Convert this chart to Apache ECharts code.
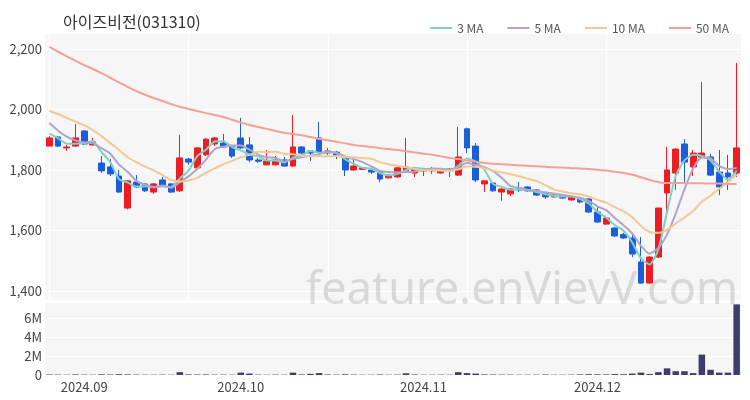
<!DOCTYPE html>
<html><head><meta charset="utf-8">
<script src="https://cdn.jsdelivr.net/npm/echarts@6/dist/echarts.min.js"></script>
<style>html,body{margin:0;padding:0;background:#fff}#c{width:750px;height:400px}</style>
</head><body><div id="c"></div>
<script>
const dates = ['2024.08.27','2024.08.28','2024.08.29','2024.08.30',
'2024.09.02','2024.09.03','2024.09.04','2024.09.05','2024.09.06','2024.09.09','2024.09.10','2024.09.11','2024.09.12','2024.09.13','2024.09.19','2024.09.20','2024.09.23','2024.09.24','2024.09.25','2024.09.26','2024.09.27','2024.09.30',
'2024.10.01','2024.10.02','2024.10.04','2024.10.07','2024.10.08','2024.10.10','2024.10.11','2024.10.14','2024.10.15','2024.10.16','2024.10.17','2024.10.18','2024.10.21','2024.10.22','2024.10.23','2024.10.24','2024.10.25','2024.10.28','2024.10.29','2024.10.30','2024.10.31',
'2024.11.01','2024.11.04','2024.11.05','2024.11.06','2024.11.07','2024.11.08','2024.11.11','2024.11.12','2024.11.13','2024.11.14','2024.11.15','2024.11.18','2024.11.19','2024.11.20','2024.11.21','2024.11.22','2024.11.25','2024.11.26','2024.11.27','2024.11.28',
'2024.12.02','2024.12.03','2024.12.04','2024.12.05','2024.12.06','2024.12.09','2024.12.10','2024.12.11','2024.12.12','2024.12.13','2024.12.16','2024.12.17','2024.12.18','2024.12.19','2024.12.20','2024.12.23','2024.12.24'];

const opens = [1879,1909,1873,1879,1929,1883,1823,1810,1780,1674,
 1760,1754,1727,1767,1754,1731,1836,1807,1850,1886,
 1889,1879,1906,1883,1833,1817,1817,1833,1813,1876,
 1863,1906,1856,1859,1840,1800,1802,1800,1793,1774,
 1777,1793,1790,1797,1797,1790,1803,1783,1936,1879,
 1754,1757,1727,1721,1740,1744,1734,1724,1711,1717,
 1701,1707,1704,1661,1621,1608,1587,1575,1496,1426,
 1512,1724,1790,1886,1810,1843,1843,1793,1790,1790];
const closes = [1906,1879,1876,1906,1886,1893,1797,1787,1727,1764,
 1744,1731,1754,1750,1727,1840,1826,1873,1902,1906,
 1876,1846,1873,1833,1829,1830,1833,1813,1876,1856,
 1856,1859,1863,1846,1800,1813,1807,1793,1770,1783,
 1807,1810,1803,1800,1803,1803,1797,1843,1873,1767,
 1764,1731,1737,1737,1734,1731,1717,1711,1717,1707,
 1711,1694,1661,1628,1641,1582,1575,1522,1426,1512,
 1674,1800,1869,1826,1856,1856,1783,1744,1777,1873];
const highs = [1912,1912,1883,1952,1932,1906,1846,1836,1800,1766,
 1783,1757,1757,1777,1757,1916,1840,1876,1906,1909,
 1919,1883,1972,1909,1840,1866,1846,1843,1982,1879,
 1866,1959,1873,1863,1843,1833,1810,1803,1797,1787,
 1810,1906,1806,1807,1810,1805,1807,1942,1940,1889,
 1766,1760,1740,1740,1760,1747,1737,1727,1720,1720,
 1714,1710,1707,1678,1645,1611,1592,1592,1578,1516,
 1676,1876,1872,1902,1866,2091,1853,1866,1850,2154];
const lows = [1879,1876,1863,1876,1883,1880,1790,1780,1724,1670,
 1740,1727,1721,1745,1724,1727,1817,1803,1846,1879,
 1873,1840,1870,1826,1823,1815,1815,1811,1811,1853,
 1830,1856,1850,1836,1780,1797,1800,1787,1760,1772,
 1774,1790,1777,1780,1787,1788,1777,1780,1856,1760,
 1727,1728,1698,1714,1727,1728,1714,1704,1708,1704,
 1698,1690,1658,1625,1618,1578,1572,1512,1424,1424,
 1509,1641,1734,1757,1780,1840,1780,1717,1734,1777];
const volumes = [50000,40000,30000,60000,40000,30000,70000,50000,80000,60000,
 40000,30000,30000,40000,30000,300000,60000,50000,60000,40000,
 40000,30000,250000,150000,40000,30000,40000,30000,250000,60000,
 120000,200000,50000,40000,70000,40000,30000,30000,50000,30000,
 40000,180000,50000,30000,30000,40000,30000,300000,200000,150000,
 60000,50000,40000,40000,30000,30000,40000,50000,30000,30000,
 40000,60000,80000,70000,60000,100000,80000,150000,250000,100000,
 300000,700000,400000,400000,200000,2150000,550000,250000,250000,7450000];
const ma3 = [1920,1905,1887,1887,1889,1895,1859,1826,1770,1759,
 1745,1746,1743,1745,1744,1772,1798,1846,1867,1894,
 1895,1876,1865,1851,1845,1831,1831,1825,1841,1848,
 1863,1857,1859,1856,1836,1820,1807,1804,1790,1782,
 1787,1800,1807,1804,1802,1802,1801,1814,1838,1828,
 1801,1754,1744,1735,1736,1734,1727,1720,1715,1712,
 1712,1704,1689,1661,1643,1617,1599,1560,1508,1487,
 1537,1662,1781,1832,1850,1846,1832,1794,1768,1798];
const ma5 = [1955,1930,1910,1898,1891,1888,1872,1854,1818,1794,
 1764,1751,1744,1749,1741,1760,1779,1803,1834,1869,
 1877,1881,1881,1867,1851,1842,1840,1828,1836,1842,
 1847,1852,1862,1856,1845,1836,1826,1812,1797,1793,
 1792,1793,1795,1801,1805,1804,1801,1809,1824,1817,
 1809,1796,1774,1747,1741,1734,1731,1726,1722,1717,
 1713,1708,1698,1680,1667,1641,1617,1590,1549,1523,
 1542,1587,1656,1736,1805,1841,1838,1813,1803,1807];
const ma10 = [1995,1985,1972,1960,1948,1932,1912,1889,1866,1842,
 1826,1811,1799,1783,1767,1762,1765,1774,1791,1805,
 1819,1830,1842,1850,1860,1859,1860,1854,1852,1847,
 1845,1846,1845,1846,1843,1842,1839,1837,1826,1819,
 1814,1809,1803,1799,1799,1798,1797,1802,1812,1811,
 1806,1798,1792,1786,1779,1771,1763,1750,1735,1729,
 1723,1720,1712,1701,1692,1677,1663,1644,1615,1595,
 1592,1602,1623,1643,1664,1695,1715,1738,1760,1785];
const ma50 = [2207,2191,2176,2161,2147,2134,2120,2105,2090,2075,
 2061,2049,2038,2028,2018,2009,2002,1995,1988,1982,
 1975,1966,1957,1949,1942,1936,1929,1923,1919,1915,
 1909,1903,1898,1893,1888,1883,1879,1876,1872,1869,
 1866,1862,1858,1854,1850,1845,1840,1836,1831,1827,
 1823,1821,1819,1817,1815,1814,1812,1811,1809,1808,
 1806,1805,1803,1801,1798,1794,1790,1784,1776,1767,
 1760,1757,1757,1757,1756,1756,1755,1755,1754,1754];
const maNames = ['3 MA','5 MA','10 MA','50 MA'];
const maColors = ['#7fd0c5','#b0a4c9','#f0c996','#f3a195'];
const monthLabels = ['2024.09','2024.10','2024.11','2024.12'];
const titleText = '아이즈비전(031310)';

const FONT = "'Noto Sans CJK KR', 'Noto Sans', sans-serif";
const candleData = dates.map((d,i)=>[opens[i],closes[i],lows[i],highs[i]]);
const maData = [ma3, ma5, ma10, ma50];

const chart = echarts.init(document.getElementById('c'), null, {renderer:'canvas'});
chart.setOption({
  animation:false,
  backgroundColor:'#fff',
  textStyle:{fontFamily:FONT},
  title:{text:titleText,left:58,top:9,textStyle:{fontSize:16,fontWeight:'normal',color:'#333',fontFamily:FONT}},
  legend:{data:maNames,right:16,top:17,icon:'rect',itemWidth:22,itemHeight:2,itemGap:24,
    textStyle:{fontSize:12,color:'#555',fontFamily:FONT}},
  graphic:[{type:'text',right:12,top:269,z:1,silent:true,
    style:{text:'feature.enVievV.com',fontSize:45,fontFamily:"'Noto Sans', sans-serif",fill:'rgba(185,185,185,0.5)'}}],
  grid:[
    {left:45,right:9,top:33,bottom:100,show:true,backgroundColor:'#f6f6f6',borderWidth:0},
    {left:45,right:9,top:302,bottom:25,show:true,backgroundColor:'#f6f6f6',borderWidth:0}
  ],
  xAxis:[
    {type:'category',gridIndex:0,data:dates,boundaryGap:true,axisLine:{show:false},axisTick:{show:false},axisLabel:{show:false},
      splitLine:{show:true,interval:15,alignWithLabel:true,lineStyle:{color:'#ffffff',width:1}}},
    {type:'category',gridIndex:1,data:dates,boundaryGap:true,axisLine:{show:false},axisTick:{show:false},splitLine:{show:false},
      axisLabel:{color:'#444',fontSize:13,margin:6,fontFamily:FONT,
        interval:(idx,val)=> monthLabels.includes(val.slice(0,7)) && (idx===0 || dates[idx-1].slice(0,7)!==val.slice(0,7)),
        formatter:(val)=>val.slice(0,7)}}
  ],
  yAxis:[
    {type:'value',gridIndex:0,min:1370,max:2253,scale:true,axisLine:{show:false},axisTick:{show:false},
      splitLine:{show:true,lineStyle:{color:'#ffffff',width:1}},
      axisLabel:{color:'#444',fontSize:13,margin:3,showMinLabel:false,showMaxLabel:false,fontFamily:FONT,
        formatter:(v)=>v.toLocaleString('en-US')}},
    {type:'value',gridIndex:1,min:0,max:7700000,interval:2000000,axisLine:{show:false},axisTick:{show:false},
      splitLine:{show:true,lineStyle:{color:'#ffffff',width:1}},
      axisLabel:{color:'#444',fontSize:13,margin:3,showMaxLabel:false,fontFamily:FONT,
        formatter:(v)=> v===0?'0':(v/1000000)+'M'}}
  ],
  series:[
    {type:'candlestick',xAxisIndex:0,yAxisIndex:0,data:candleData,barWidth:'72%',
      itemStyle:{color:'#ee1c25',color0:'#1c5ed8',borderColor:'#ee1c25',borderColor0:'#1c5ed8',borderWidth:1}},
    ...maNames.map((n,k)=>({name:n,type:'line',xAxisIndex:0,yAxisIndex:0,data:maData[k],symbol:'none',smooth:k===3?0.5:0.2,
      lineStyle:{color:maColors[k],width:2},itemStyle:{color:maColors[k]},z:3})),
    {type:'bar',xAxisIndex:1,yAxisIndex:1,data:volumes,barWidth:'75%',itemStyle:{color:'#3d3e6b'}}
  ]
});
</script></body></html>
